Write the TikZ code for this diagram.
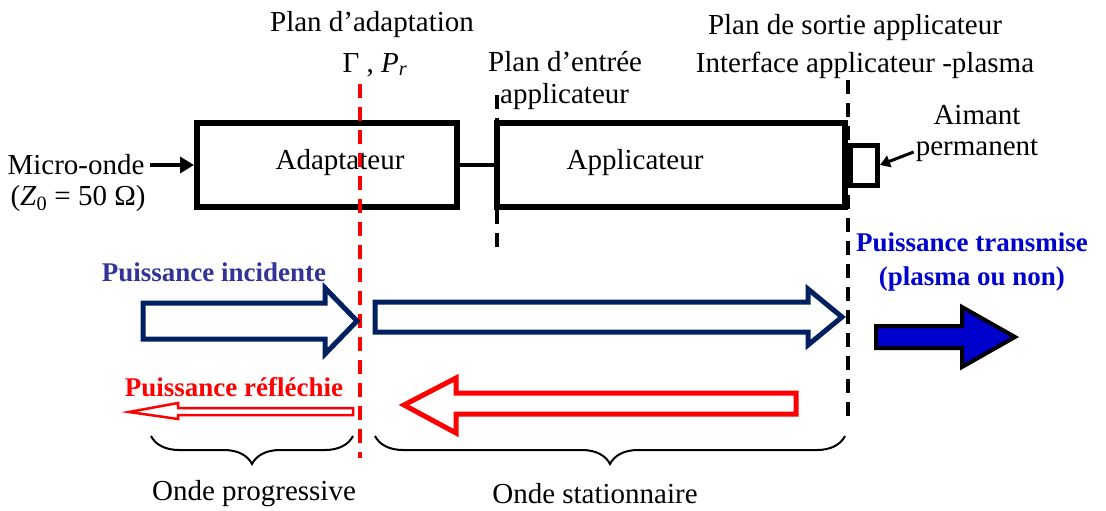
\documentclass[tikz,border=0pt]{standalone}
\usepackage{fontspec}
\setmainfont{Liberation Serif}
\usetikzlibrary{arrows.meta,decorations.pathreplacing,calc}
\definecolor{navy}{HTML}{002060}
\definecolor{incid}{HTML}{333399}
\definecolor{trans}{HTML}{0000CC}
\definecolor{rouge}{HTML}{FF0000}
\tikzset{
  x=1pt,y=-1pt,
  txt/.style={font=\fontsize{29}{35}\selectfont, inner sep=0pt, align=center},
  btxt/.style={font=\fontsize{27}{34}\selectfont\bfseries, inner sep=0pt, align=center},
  blockbox/.style={draw, line width=6pt, inner sep=0pt},
  plane/.style={line width=4pt, dash pattern=on 14pt off 9pt},
  hollow/.style={line width=5pt, line join=miter, fill=white},
  brc/.style={decorate, decoration={brace, mirror, amplitude=28pt, aspect=0.5}, line width=2pt},
}
\begin{document}
\begin{tikzpicture}
\useasboundingbox (0,0) rectangle (1106,511);
% boxes
\node[blockbox, minimum width=260pt, minimum height=84pt] (adapt) at (327,165) {};
\node[txt] at (340,163) {Adaptateur};
\node[blockbox, minimum width=348pt, minimum height=84pt] (applic) at (671,165) {};
\node[txt] at (635,163) {Applicateur};
\node[blockbox, line width=5pt, minimum width=27pt, minimum height=40pt, anchor=west] (aimant) at (848,165) {};
% texts top
\node[txt] (micro) at (76,165) {Micro-onde};
\node[txt] at (78,199) {(\textit{Z}\textsubscript{0} = 50 Ω)};
\node[txt] at (372,25) {Plan d’adaptation};
\node[txt] at (375,65) {Γ , \textit{P}\textsubscript{\textit{r}}};
\node[txt, anchor=west] at (488,62) {Plan d’entrée};
\node[txt, anchor=west] at (500,97) {applicateur};
\node[txt] at (855,28) {Plan de sortie applicateur};
\node[txt] at (865,65) {Interface applicateur -plasma};
\node[txt] at (977,115) {Aimant};
\node[txt] (aimtxt) at (977,150) {permanent};
% connectors
\draw[line width=4pt, -{Triangle[length=14pt,width=16pt]}] (micro.east) ++(5,0) -- (adapt.west);
\draw[line width=4pt] (adapt.east) -- (applic.west);
\draw[line width=3pt, -{Triangle[length=10pt,width=12pt]}] (aimtxt.west) ++(-2,2) -- (aimant.east);
% planes
\coordinate (r1) at (360,84); \coordinate (r2) at (360,458);
\draw[plane, rouge] (r1) -- (r2);
\coordinate (e1) at (497,95); \coordinate (e2) at (497,252);
\draw[plane] (e1) -- (e2);
\coordinate (s1) at (848,80); \coordinate (s2) at (848,424);
\draw[plane] (s1) -- (s2);
% power labels
\node[btxt, text=incid] at (214,272) {Puissance incidente};
\node[btxt, text=trans] at (972,262) {Puissance transmise\\(plasma ou non)};
\node[btxt, text=rouge] at (234,387) {Puissance réfléchie};
% incident arrows
\draw[hollow, draw=navy] (143,303) -- (325,303) -- (325,288) -- (357,321) -- (325,354) -- (325,339) -- (143,339) -- cycle;
\draw[hollow, draw=navy] (375,302) -- (808,302) -- (808,289) -- (842,317) -- (808,345) -- (808,332) -- (375,332) -- cycle;
% transmitted arrow
\draw[line width=4pt, line join=miter, fill=trans] (876,326) -- (962,326) -- (962,307) -- (1015,337) -- (962,367) -- (962,348) -- (876,348) -- cycle;
% reflected arrows
\draw[line width=2.5pt, draw=rouge, fill=white] (353,408) -- (178,408) -- (178,403) -- (129,412) -- (178,419) -- (178,415) -- (353,415) -- cycle;
\draw[hollow, draw=rouge] (796,393) -- (456,393) -- (456,378) -- (404,405) -- (456,433) -- (456,414) -- (796,414) -- cycle;
% braces
\coordinate (b1) at (151,436); \coordinate (b2) at (353,436);
\coordinate (b3) at (375,436); \coordinate (b4) at (845,436);
\draw[brc] (b1) -- (b2);
\draw[brc] (b3) -- (b4);
\node[txt] at (254,494) {Onde progressive};
\node[txt] at (595,494) {Onde stationnaire};
\end{tikzpicture}
\end{document}
